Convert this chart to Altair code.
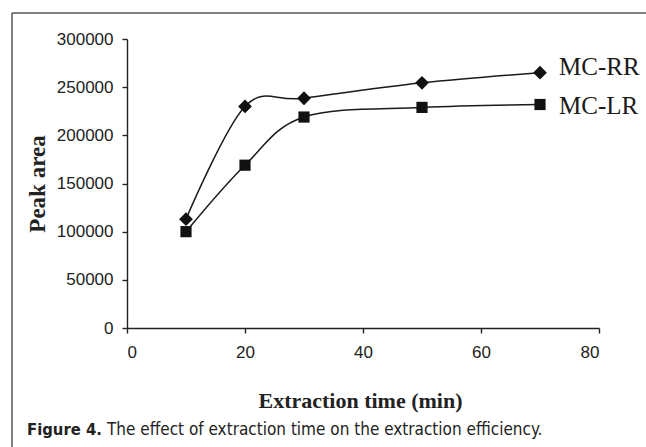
import altair as alt
import pandas as pd

times = [10, 20, 30, 50, 70]
mc_rr = [113000, 230000, 238500, 254500, 265000]
mc_lr = [100000, 169000, 219000, 229000, 232000]
series_names = ["MC-RR", "MC-LR"]
x_ticks = [0, 20, 40, 60, 80]
y_ticks = [0, 50000, 100000, 150000, 200000, 250000, 300000]

rows = []
for name, vals in zip(series_names, [mc_rr, mc_lr]):
    for t, v in zip(times, vals):
        rows.append({"series": name, "time": t, "area": v})
df = pd.DataFrame(rows)
last_rr = df[(df["time"] == times[-1]) & (df["series"] == "MC-RR")]
last_lr = df[(df["time"] == times[-1]) & (df["series"] == "MC-LR")]

W, H = 472, 289
LEFT, TOP = 127, 39

x = alt.X("time:Q", scale=alt.Scale(domain=[0, 80]),
          axis=alt.Axis(values=x_ticks, title="Extraction time (min)", grid=False,
                        tickSize=5, labelPadding=11, labelFontSize=17,
                        labelFont="Liberation Sans", labelColor="#222",
                        domainColor="#222", tickColor="#222", domainWidth=1.4, tickWidth=1.4,
                        titleFont="Liberation Serif", titleFontSize=22, titleFontWeight="bold",
                        titleColor="#222", titleX=W / 2 - 3, titleY=79,
                        titleBaseline="alphabetic", titleAnchor="middle"))
y = alt.Y("area:Q", scale=alt.Scale(domain=[0, 300000]),
          axis=alt.Axis(values=y_ticks, format="d", title="Peak area", grid=False,
                        tickSize=5, labelPadding=9, labelFontSize=17,
                        labelFont="Liberation Sans", labelColor="#222",
                        domainColor="#222", tickColor="#222", domainWidth=1.4, tickWidth=1.4,
                        titleFont="Liberation Serif", titleFontSize=23, titleFontWeight="bold",
                        titleColor="#222", titleX=-90, titleY=H / 2,
                        titleBaseline="middle", titleAngle=-90, titleAnchor="middle"))

base = alt.Chart(df)

lines = base.mark_line(interpolate="cardinal", color="#1a1a1a", strokeWidth=1.5).encode(
    x=x, y=y, detail="series:N")

points = base.mark_point(filled=True, color="#111", opacity=1).encode(
    x="time:Q", y="area:Q",
    shape=alt.Shape("series:N", scale=alt.Scale(domain=series_names, range=["diamond", "square"]),
                    legend=None),
    size=alt.Size("series:N", scale=alt.Scale(domain=series_names, range=[190, 125]), legend=None))

label_style = dict(align="left", baseline="middle", font="Liberation Serif",
                   fontSize=25, color="#1a1a1a", dx=19)
label_rr = alt.Chart(last_rr).mark_text(dy=-6, **label_style).encode(
    x="time:Q", y="area:Q", text="series:N")
label_lr = alt.Chart(last_lr).mark_text(dy=1, **label_style).encode(
    x="time:Q", y="area:Q", text="series:N")

cap = pd.DataFrame({"a": ["Figure 4."], "b": ["The effect of extraction time on the extraction efficiency."]})
cap_font = "DejaVu Sans Condensed, Liberation Sans, sans-serif"
cap1 = alt.Chart(cap).mark_text(align="left", baseline="alphabetic", font=cap_font, fontSize=16.5,
                                fontWeight="bold", color="#222").encode(
    x=alt.value(27 - LEFT), y=alt.value(435 - TOP), text="a:N")
cap2 = alt.Chart(cap).mark_text(align="left", baseline="alphabetic", font=cap_font, fontSize=17,
                                color="#222").encode(
    x=alt.value(107 - LEFT), y=alt.value(435 - TOP), text="b:N")

border_top = alt.Chart(cap).mark_rule(color="#555", strokeWidth=1.5).encode(
    x=alt.value(12 - LEFT), x2=alt.value(650 - LEFT), y=alt.value(13 - TOP))
border_left = alt.Chart(cap).mark_rule(color="#555", strokeWidth=1.5).encode(
    x=alt.value(12 - LEFT), y=alt.value(13 - TOP), y2=alt.value(460 - TOP))

chart = alt.layer(lines, points, label_rr, label_lr, cap1, cap2, border_top, border_left).properties(
    width=W, height=H,
    autosize=alt.AutoSizeParams(type="none"),
    padding={"left": LEFT, "top": TOP, "right": 646 - LEFT - W, "bottom": 447 - TOP - H},
    background="white",
).configure_view(stroke=None)

chart.save("out.html", embed_options={"renderer": "svg", "actions": False})
